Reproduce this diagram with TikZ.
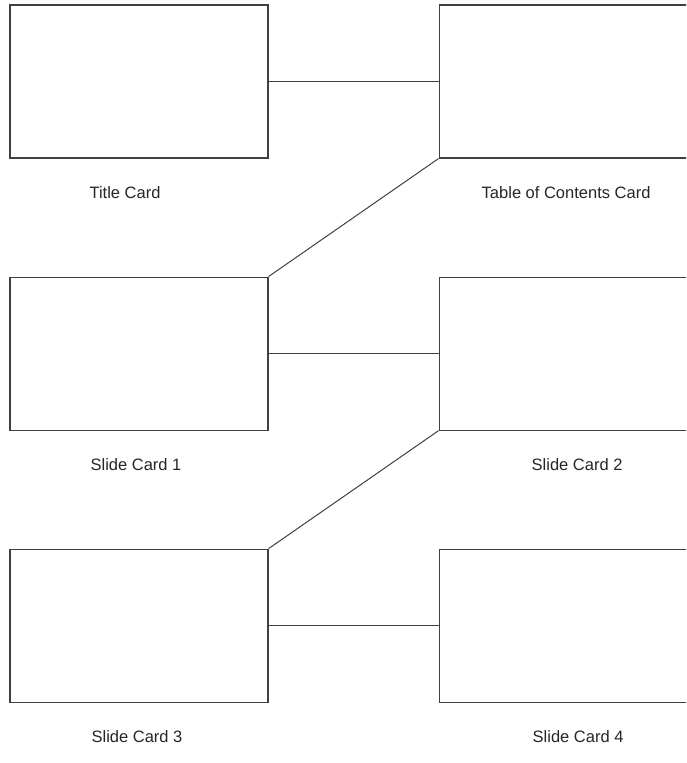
\documentclass[tikz,border=0pt]{standalone}
\usepackage{fontspec}
\setmainfont{Liberation Sans}
\usetikzlibrary{positioning}

\begin{document}
\begin{tikzpicture}[
    node distance=118pt and 170pt,
    card/.style={rectangle, draw=black!75, line width=1.1pt, minimum width=258pt, minimum height=153pt, inner sep=0pt},
    cardlabel/.style={inner sep=0pt, font=\fontsize{16.5pt}{19pt}\selectfont, text=black!85},
    link/.style={draw=black!75, line width=1pt}
]
    \useasboundingbox (0,0) rectangle (686pt,-763pt);
    \clip (0,0) rectangle (686pt,-763pt);

    \node (title) [card] at (139pt,-81.5pt) {};
    \node (toc) [card, right=of title] {};
    \node (slide1) [card, below=of title] {};
    \node (slide2) [card, right=of slide1] {};
    \node (slide3) [card, below=of slide1] {};
    \node (slide4) [card, right=of slide3] {};

    \node (titlelbl) [cardlabel, below=28pt of title, xshift=-14pt] {Title Card};
    \node (toclbl) [cardlabel, below=28pt of toc, xshift=-2pt] {Table of Contents Card};
    \node (slide1lbl) [cardlabel, below=28pt of slide1, xshift=-3pt] {Slide Card 1};
    \node (slide2lbl) [cardlabel, below=28pt of slide2, xshift=9pt] {Slide Card 2};
    \node (slide3lbl) [cardlabel, below=28pt of slide3, xshift=-2pt] {Slide Card 3};
    \node (slide4lbl) [cardlabel, below=28pt of slide4, xshift=10pt] {Slide Card 4};

    \draw [link] (title) -- (toc);
    \draw [link] (toc.south west) -- (slide1.north east);
    \draw [link] (slide1) -- (slide2);
    \draw [link] (slide2.south west) -- (slide3.north east);
    \draw [link] (slide3) -- (slide4);
\end{tikzpicture}
\end{document}
